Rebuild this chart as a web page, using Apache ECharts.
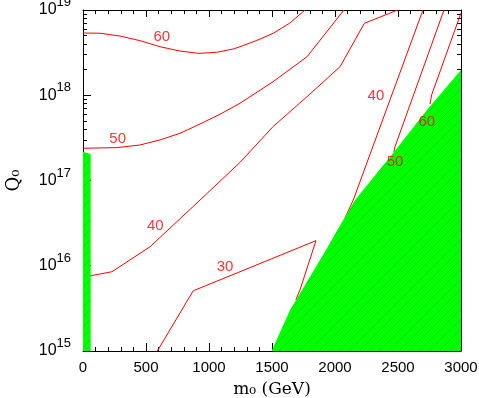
<!DOCTYPE html>
<html>
<head>
<meta charset="utf-8">
<script src="https://cdn.jsdelivr.net/npm/echarts@6/dist/echarts.min.js"></script>
<style>
  html, body { margin: 0; padding: 0; background: #fff; }
  #main { width: 479px; height: 398px; }
</style>
</head>
<body>
<div id="main"></div>
<script>
// x: m0 (GeV), y: Q0 (log scale)
var xTicks = [0, 500, 1000, 1500, 2000, 2500, 3000];
var yTicks = [1e15, 1e16, 1e17, 1e18, 1e19];

// contour lines [m0, Q0]
var line60a = [[0, 5.37e18], [135, 5.34e18], [294, 4.95e18], [452, 4.37e18], [611, 3.71e18], [770, 3.30e18],
  [921, 3.10e18], [1061, 3.19e18], [1193, 3.49e18], [1246, 3.71e18], [1380, 4.40e18], [1510, 5.33e18], [1640, 7.0e18], [1762, 1e19]];
var line50a = [[0, 2.39e17], [267, 2.43e17], [452, 2.61e17], [611, 2.99e17], [770, 3.58e17], [929, 4.60e17],
  [1087, 5.98e17], [1246, 8.05e17], [1508, 1.44e18], [1778, 2.83e18], [2071, 1e19]];
var line40a = [[0, 7.33e15], [230, 8.51e15], [532, 1.67e16], [929, 5.90e16], [1246, 1.63e17], [1508, 4.28e17],
  [1778, 9.62e17], [2040, 2.16e18], [2233, 6.98e18], [2498, 1e19]];
var line30 = [[590, 1e15], [875, 5.09e15], [1246, 8.51e15], [1849, 1.97e16], [1722, 5.2e15], [1690, 4.0e15]];
var line40b = [[2698, 1e19], [2145, 5.90e16], [2079, 3.63e16]];
var line50b = [[2865, 1e19], [2476, 2.49e17], [2468, 2.16e17]];
var line60b = [[3000, 9.23e18], [2767, 1.01e18], [2754, 7.89e17]];

// excluded regions (green)
var greenRight = [[1497, 1e15], [1643, 3.03e15], [1905, 1.34e16], [2079, 3.73e16], [2159, 5.90e16],
  [2437, 1.89e17], [2730, 6.71e17], [3000, 1.98e18]];
var greenLeft = [[0, 2.18e17], [61, 2.04e17]];

// contour labels
var labelText = ['60', '50', '40', '30', '40', '50', '60'];
var labelPos = [[625, 4.79e18], [275, 3.09e17], [574, 2.93e16], [1127, 9.66e15], [2325, 9.80e17], [2476, 1.65e17], [2728, 4.85e17]];

// hatched green fill
var pat = document.createElement('canvas');
pat.width = 10; pat.height = 10;
var c = pat.getContext('2d');
c.fillStyle = '#00ff00';
c.fillRect(0, 0, 10, 10);
c.strokeStyle = 'rgba(0,140,0,0.3)';
c.lineWidth = 1;
c.beginPath();
c.moveTo(0, 10); c.lineTo(10, 0);
c.moveTo(-5, 5); c.lineTo(5, -5);
c.moveTo(5, 15); c.lineTo(15, 5);
c.stroke();
var greenFill = { image: pat, repeat: 'repeat' };

var black = '#000';
var sans = 'Liberation Sans';
var serif = 'DejaVu Serif';

function redLine(d) {
  return {
    type: 'line', data: d, symbol: 'none', smooth: false, z: 2,
    lineStyle: { color: '#ff0000', width: 1 }
  };
}
function greenArea(d) {
  return {
    type: 'line', data: d, symbol: 'none', z: 3,
    lineStyle: { width: 0 },
    areaStyle: { color: greenFill, opacity: 1, origin: 'start' }
  };
}

var labelData = labelPos.map(function (p, i) {
  return { value: p, name: labelText[i] };
});

function axisLine() {
  return { show: true, onZero: false, lineStyle: { color: black, width: 1 } };
}

var myChart = echarts.init(document.getElementById('main'));
var option = {
  animation: false,
  grid: { left: 83, right: 18, top: 10, bottom: 47, outerBoundsMode: 'none' },
  xAxis: [
    {
      type: 'value', min: 0, max: 3000, interval: 500, position: 'bottom',
      name: 'm\u2080 (GeV)', nameLocation: 'middle', nameGap: 30,
      nameTextStyle: { fontFamily: serif, fontSize: 17, color: black },
      axisLine: axisLine(),
      axisTick: { show: true, inside: true, length: 8, lineStyle: { color: black, width: 1 } },
      minorTick: { show: true, splitNumber: 5, length: 4, lineStyle: { color: black, width: 1 } },
      splitLine: { show: false },
      axisLabel: {
        margin: 9, fontFamily: sans, fontSize: 15, color: black,
        formatter: function (v) { return String(v); }
      }
    },
    {
      type: 'value', min: 0, max: 3000, interval: 500, position: 'top',
      axisLine: axisLine(),
      axisTick: { show: true, inside: true, length: 7, lineStyle: { color: black, width: 1 } },
      minorTick: { show: true, splitNumber: 5, length: 4, lineStyle: { color: black, width: 1 } },
      splitLine: { show: false },
      axisLabel: { show: false }
    }
  ],
  yAxis: [
    {
      type: 'log', logBase: 10, min: 1e15, max: 1e19, position: 'left',
      name: 'Q\u2080', nameLocation: 'middle', nameGap: 60, nameRotate: 90,
      nameTextStyle: { fontFamily: serif, fontSize: 18, color: black },
      axisLine: axisLine(),
      axisTick: { show: true, inside: true, length: 8, lineStyle: { color: black, width: 1 } },
      minorTick: { show: true, splitNumber: 9, length: 4, lineStyle: { color: black, width: 1 } },
      splitLine: { show: false },
      axisLabel: {
        margin: 12,
        formatter: function (v) {
          var ex = Math.round(Math.log(v) / Math.LN10);
          return yTicks.indexOf(Math.pow(10, ex)) >= 0 ? '{b|10}{s|' + ex + '}' : '';
        },
        rich: {
          b: { fontFamily: sans, fontSize: 16, color: black, lineHeight: 28, verticalAlign: 'middle' },
          s: { fontFamily: sans, fontSize: 13, color: black, lineHeight: 14, verticalAlign: 'top' }
        }
      }
    },
    {
      type: 'log', logBase: 10, min: 1e15, max: 1e19, position: 'right',
      axisLine: axisLine(),
      axisTick: { show: true, inside: true, length: 8, lineStyle: { color: black, width: 1 } },
      minorTick: { show: true, splitNumber: 9, length: 4, lineStyle: { color: black, width: 1 } },
      axisLabel: { show: false },
      splitLine: { show: false }
    }
  ],
  series: [
    redLine(line60a), redLine(line50a), redLine(line40a), redLine(line30),
    redLine(line40b), redLine(line50b), redLine(line60b),
    greenArea(greenRight), greenArea(greenLeft),
    {
      type: 'scatter', data: labelData, symbolSize: 1, z: 5,
      itemStyle: { color: 'rgba(0,0,0,0)' },
      label: {
        show: true, position: 'inside', formatter: '{b}',
        fontFamily: sans, fontSize: 15, color: '#ff0000'
      }
    }
  ]
};
myChart.setOption(option);
window.onresize = function () {
  if (myChart) {
    myChart.resize();
  }
};
</script>
</body>
</html>
